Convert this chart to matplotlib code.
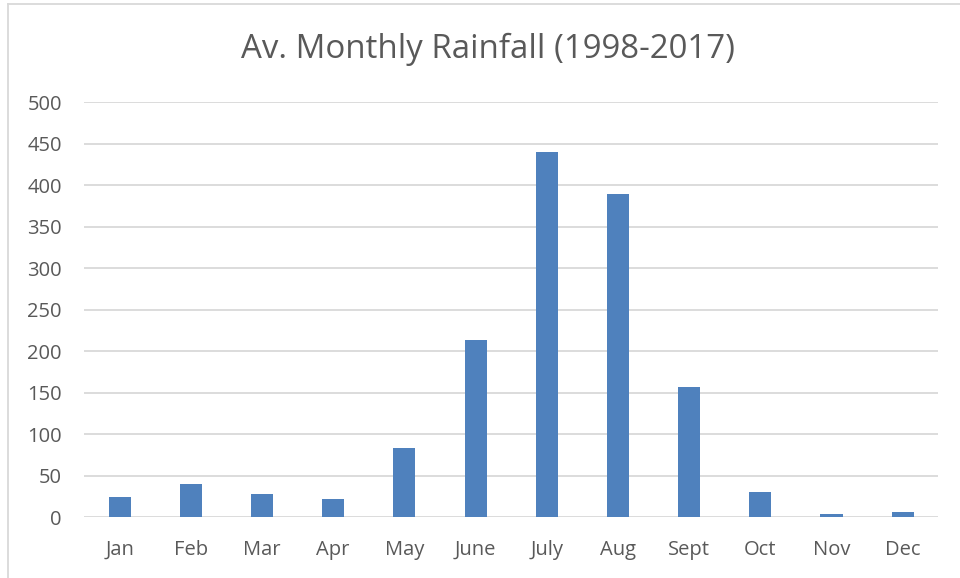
import matplotlib
matplotlib.use("Agg")
import matplotlib.pyplot as plt
from matplotlib.lines import Line2D

months = ["Jan", "Feb", "Mar", "Apr", "May", "June", "July", "Aug", "Sept", "Oct", "Nov", "Dec"]
rainfall = [25, 40, 28.5, 22, 83, 214, 440, 390, 157, 31, 3.5, 6]
yticks = [0, 50, 100, 150, 200, 250, 300, 350, 400, 450, 500]
title = "Av. Monthly Rainfall (1998-2017)"

plt.rcParams['font.family'] = ['Open Sans', 'DejaVu Sans']

fig = plt.figure(figsize=(9.6, 5.78), dpi=100)
ax = fig.add_axes([84/960, 1-517.3/578, (938.3-84)/960, (517.3-102.3)/578])

x = list(range(len(months)))
ax.bar(x, rainfall, width=0.31, color="#4F81BD", zorder=3)
ax.set_xlim(-0.5, len(months)-0.5)
ax.set_ylim(0, 500)
ax.set_yticks(yticks)
ax.set_yticklabels([str(v) for v in yticks])
ax.set_xticks(x)
ax.set_xticklabels(months)
ax.grid(axis='y', color="#D9D9D9", linewidth=1.3, zorder=0)
for s in ax.spines.values():
    s.set_visible(False)
ax.tick_params(axis='both', length=0, labelsize=14.5, labelcolor="#595959")
ax.tick_params(axis='y', pad=16)
ax.tick_params(axis='x', pad=16.5)

fig.text(488/960, 1-49/578, title, ha='center', va='center', fontsize=23.8, color="#595959")

fig.add_artist(Line2D([7.5/960, 7.5/960], [0, 1-3.5/578], color="#D9D9D9", linewidth=1.3, transform=fig.transFigure))
fig.add_artist(Line2D([7.5/960, 1], [1-3.5/578, 1-3.5/578], color="#D9D9D9", linewidth=1.3, transform=fig.transFigure))

fig.savefig("out.png", dpi=100)
